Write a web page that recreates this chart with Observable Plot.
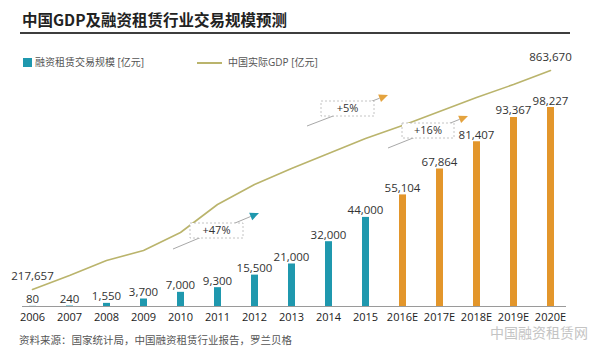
<!DOCTYPE html>
<html>
<head>
<meta charset="utf-8">
<script src="https://cdn.jsdelivr.net/npm/d3@7"></script>
<script src="https://cdn.jsdelivr.net/npm/@observablehq/plot@0.6"></script>
<style>
  html, body { margin: 0; padding: 0; background: #fff; }
  #chart { position: relative; width: 600px; height: 354px; overflow: hidden; background: #fff;
           font-family: "Open Sans", "Noto Sans CJK SC", sans-serif; }
  #chart svg.layer { position: absolute; left: 0; top: 0; }
  .abs { position: absolute; white-space: nowrap; }
</style>
</head>
<body>
<div id="chart"></div>
<script>
// ---------- data ----------
const years = ["2006","2007","2008","2009","2010","2011","2012","2013","2014","2015","2016E","2017E","2018E","2019E","2020E"];
const leasingVolume = [80, 240, 1550, 3700, 7000, 9300, 15500, 21000, 32000, 44000, 55104, 67864, 81407, 93367, 98227];
const gdp = [217657, 259000, 303200, 332700, 385800, 468400, 527400, 574600, 618900, 663100, 701500, 742800, 784000, 822400, 863670];
const titleText = "中国GDP及融资租赁行业交易规模预测";
const legendBars = "融资租赁交易规模 [亿元]";
const legendLine = "中国实际GDP [亿元]";
const sourceText = "资料来源：国家统计局，中国融资租赁行业报告，罗兰贝格";
const watermarkText = "中国融资租赁网";
const growthLabels = ["+47%", "+5%", "+16%"];

// ---------- styles / layout ----------
const TEAL = "#1f98ae", ORANGE = "#e3962b", OLIVE = "#bab46c";
const W = 600, H = 354;
const common = {width: W, height: H, marginTop: 63, marginBottom: 48, marginLeft: 31, marginRight: 49,
  style: {background: "transparent", fontFamily: '"Open Sans", sans-serif', overflow: "visible"}};
const xScale = {type: "point", domain: years, padding: 0};

const barData = years.map((y, i) => ({year: y, value: leasingVolume[i]}));
const gdpData = years.map((y, i) => ({year: y, value: gdp[i]}));
const colorOf = d => d.year.endsWith("E") ? ORANGE : TEAL;

const chart = document.getElementById("chart");

// bars + axis
const p1 = Plot.plot({
  ...common,
  x: {...xScale, label: null},
  y: {domain: [0, 120000], axis: null},
  marks: [
    Plot.ruleX(barData, {x: "year", y1: 0, y2: "value", stroke: colorOf, strokeWidth: 7}),
    Plot.ruleY([0], {stroke: "#9a9a9a", strokeWidth: 1, insetLeft: -9, insetRight: -15}),
    Plot.text(barData, {x: "year", y: "value", text: d => d3.format(",")(d.value), lineAnchor: "bottom", dy: -3,
      fontSize: 11.5, fill: "#333"}),
    Plot.axisX({tickSize: 0, tickPadding: 7, fontSize: 11, color: "#222", label: null})
  ]
});
p1.classList.add("layer");
chart.appendChild(p1);

// GDP line (secondary scale)
const p2 = Plot.plot({
  ...common,
  x: {...xScale, axis: null},
  y: {domain: [167500, 884400], axis: null},
  marks: [
    Plot.line(gdpData, {x: "year", y: "value", stroke: OLIVE, strokeWidth: 1.6}),
    Plot.text([gdpData[0], gdpData[gdpData.length - 1]], {x: "year", y: "value",
      text: d => d3.format(",")(d.value), dy: -13, fontSize: 11.5, fill: "#333"})
  ]
});
p2.classList.add("layer");
chart.appendChild(p2);

// annotations (decorative arrows + dashed boxes)
const annoLayout = [
  {box: [190, 223, 53, 15], from: [173, 249], to: [259, 213], head: TEAL},
  {box: [321, 101, 53, 15], from: [307, 126], to: [388, 95], head: "#e4a33f"},
  {box: [402, 123, 52, 15], from: [388, 148], to: [468, 116], head: "#e4a33f"}
];
const svg = d3.select(chart).append("svg").attr("class", "layer").attr("width", W).attr("height", H);
annoLayout.forEach((a, i) => {
  const [x1, y1] = a.from, [x2, y2] = a.to;
  const ang = Math.atan2(y2 - y1, x2 - x1);
  const L = 9, Wd = 4;
  const bx = x2 - L * Math.cos(ang), by = y2 - L * Math.sin(ang);
  svg.append("line").attr("x1", x1).attr("y1", y1).attr("x2", bx).attr("y2", by)
    .attr("stroke", "#a8a8a8").attr("stroke-width", 1);
  const px = -Math.sin(ang), py = Math.cos(ang);
  svg.append("polygon")
    .attr("points", [[x2, y2], [bx + px * Wd, by + py * Wd], [bx - px * Wd, by - py * Wd]].map(p => p.join(",")).join(" "))
    .attr("fill", a.head);
  const [rx, ry, rw, rh] = a.box;
  svg.append("rect").attr("x", rx).attr("y", ry).attr("width", rw).attr("height", rh)
    .attr("fill", "#fff").attr("stroke", "#b5b5b5").attr("stroke-dasharray", "2,2").attr("stroke-width", 0.8);
  svg.append("text").attr("x", rx + rw / 2).attr("y", ry + rh / 2).attr("dy", "0.36em")
    .attr("text-anchor", "middle").attr("font-size", 11).attr("fill", "#333")
    .attr("font-family", '"Open Sans", sans-serif').text(growthLabels[i]);
});

// title, rule, legend, source, watermark
function addDiv(text, css) {
  const d = document.createElement("div");
  d.className = "abs";
  d.textContent = text || "";
  Object.assign(d.style, css);
  chart.appendChild(d);
  return d;
}
addDiv(titleText, {left: "22px", top: "10px", fontSize: "15.5px", fontWeight: "bold", color: "#222", lineHeight: "18px",
  fontFamily: '"Noto Sans CJK SC", sans-serif'});
addDiv("", {left: "20px", top: "32px", width: "550px", height: "2px", background: "#3d3d3d"});
addDiv("", {left: "23px", top: "58px", width: "9px", height: "9px", background: TEAL});
addDiv(legendBars, {left: "35px", top: "55px", fontSize: "10px", color: "#555", lineHeight: "14px"});
addDiv("", {left: "197px", top: "62px", width: "25px", height: "1.5px", background: OLIVE});
addDiv(legendLine, {left: "228px", top: "55px", fontSize: "10px", color: "#555", lineHeight: "14px"});
addDiv(sourceText, {left: "19px", top: "333px", fontSize: "10.5px", color: "#555", lineHeight: "14px"});
addDiv(watermarkText, {left: "490px", top: "325px", fontSize: "14px", color: "#c4c4c4", lineHeight: "16px"});
</script>
</body>
</html>
